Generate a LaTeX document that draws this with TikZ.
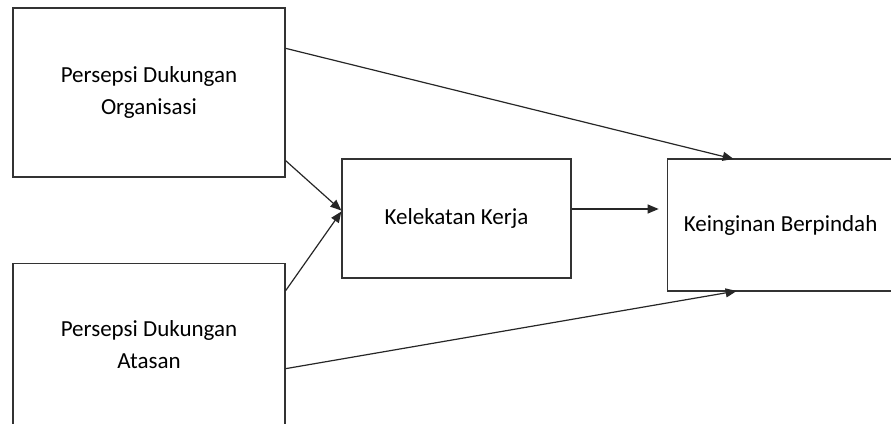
\documentclass[tikz,border=0pt]{standalone}
\usepackage{fontspec}
\setmainfont{Carlito}
\usetikzlibrary{arrows.meta, positioning}

\begin{document}
\begin{tikzpicture}[
		node distance=85pt and 95pt,
		every node/.style={font=\fontsize{23}{32}\selectfont},
		boxline/.style={draw=black!80, line width=1.3pt},
		box/.style={boxline, rectangle, align=center,
			minimum width=272pt, inner sep=0pt},
		conn/.style={-{Triangle[length=11pt,width=9pt]}, line width=1.2pt, black!85}
		]
		\useasboundingbox (0,0) rectangle (891pt,-423pt);
		% left column
		\node[box, minimum height=169pt] at (149pt,-92.5pt) (org) {Persepsi Dukungan\\Organisasi};
		\node[box, minimum height=163pt, below = of org] (atasan) {Persepsi Dukungan\\Atasan};
		% mediator and outcome
		\node[box, minimum width=229pt, minimum height=119pt] at (456.5pt,-218.5pt) (kerja) {Kelekatan Kerja};
		\node[box, draw=none, outer sep=0pt, minimum width=226pt, minimum height=132pt, right = 96pt of kerja, yshift=-6.5pt] (pindah) {Keinginan Berpindah};
		% outcome box runs off the right edge
		\draw[boxline] (pindah.north east) -- (pindah.north west) -- (pindah.south west) -- (pindah.south east);
		
		% Draw the paths
		\draw[conn] ([yshift=-41pt]org.north east) -- ([xshift=66pt]pindah.north west);
		\draw[conn] ([yshift=17pt]org.south east) -- ([yshift=8pt]kerja.west);
		\draw[conn] ([yshift=-28pt]atasan.north east) -- ([yshift=7pt]kerja.west);
		\draw[conn] ([yshift=9.5pt]kerja.east) -- ([xshift=-9pt,yshift=16pt]pindah.west);
		\draw[conn] ([yshift=-106pt]atasan.north east) -- ([xshift=69pt]pindah.south west);
	\end{tikzpicture}
\end{document}
